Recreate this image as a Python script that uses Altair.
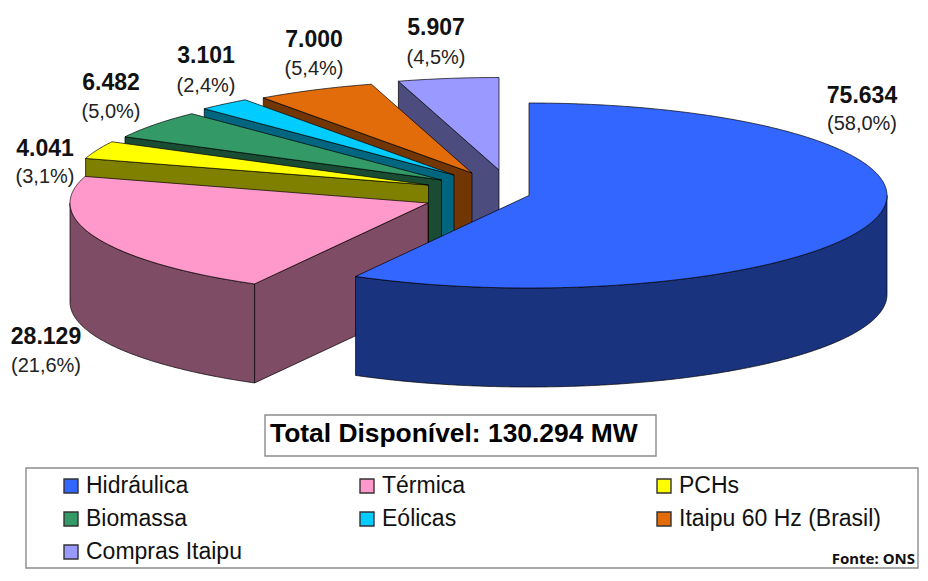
import math
import altair as alt

# ---- values ----
names = ["Hidráulica", "Térmica", "PCHs", "Biomassa", "Eólicas", "Itaipu 60 Hz (Brasil)", "Compras Itaipu"]
values = [75634, 28129, 4041, 6482, 3101, 7000, 5907]
value_labels = ["75.634", "28.129", "4.041", "6.482", "3.101", "7.000", "5.907"]
share_labels = ["(58,0%)", "(21,6%)", "(3,1%)", "(5,0%)", "(2,4%)", "(5,4%)", "(4,5%)"]
top_colors = ["#3366FF", "#FF99CC", "#FFFF00", "#339966", "#00CCFF", "#E36C0A", "#9999FF"]
side_colors = ["#1A337F", "#7F4C66", "#7F7F00", "#1A4C33", "#00667F", "#723605", "#4C4C7F"]
total_label = "Total Disponível: 130.294 MW"
source_label = "Fonte: ONS"

# ---- layout (page pixels; the drawing starts 8px inside the page) ----
ORIGIN = 8
RX, RY, DEPTH = 358.0, 92.5, 99.0
apex = [(529, 195.5), (428, 203), (428.5, 185), (441.5, 180), (454, 175), (472, 173), (499, 170)]
label_xy = [(862, 96, 124), (46, 337, 366), (45, 149, 177), (111, 83, 112),
            (206, 56, 86), (314, 40, 69), (436, 28, 58)]
legend_xy = [(64, 486), (360, 486), (657, 486), (64, 519), (360, 519), (657, 519), (64, 552)]


def pt(i, deg, drop=0.0):
    a = math.radians(deg)
    cx, cy = apex[i]
    return [cx + RX * math.sin(a) - ORIGIN, cy - RY * math.cos(a) + drop - ORIGIN]


def arc(i, d0, d1, drop=0.0):
    n = max(2, int(abs(d1 - d0) * 2))
    return [pt(i, d0 + (d1 - d0) * k / n, drop) for k in range(n + 1)]


def feature(ring, color):
    ring = ring + [ring[0]]
    return {"type": "Feature", "properties": {"fill": color},
            "geometry": {"type": "Polygon", "coordinates": [ring]}}


total = sum(values)
starts, ends, acc = [], [], 0.0
for v in values:
    starts.append(acc)
    acc += v / total * 360.0
    ends.append(acc)

features = []
for i in range(len(values) - 1, -1, -1):
    d0, d1 = starts[i], ends[i]
    cx, cy = apex[i]
    vertex = [cx - ORIGIN, cy - ORIGIN]
    vertex_low = [cx - ORIGIN, cy - ORIGIN + DEPTH]
    # cut wall on the slice's starting radius (hidden for the first slice)
    if i > 0:
        features.append(feature([pt(i, d0), vertex, vertex_low, pt(i, d0, DEPTH)], side_colors[i]))
    # outer rim where it faces the viewer
    r0, r1 = max(d0, 90.0), min(d1, 270.0)
    if r1 > r0:
        features.append(feature(arc(i, r0, r1) + arc(i, r1, r0, DEPTH), side_colors[i]))
    # top face
    features.append(feature([vertex] + arc(i, d0, d1), top_colors[i]))

pie = (
    alt.Chart(alt.Data(values=features))
    .mark_geoshape(stroke="#000000", strokeWidth=0.7, strokeJoin="round")
    .encode(color=alt.Color("properties.fill:N", scale=None, legend=None))
    .project(type="identity", scale=1, translate=[0, 0])
)

X = lambda f: alt.X(f, type="quantitative", scale=None, axis=None)
Y = lambda f: alt.Y(f, type="quantitative", scale=None, axis=None)

label_rows = [
    {"t1": value_labels[i], "t2": share_labels[i], "x": label_xy[i][0] - ORIGIN,
     "y1": label_xy[i][1] - ORIGIN, "y2": label_xy[i][2] - ORIGIN}
    for i in range(len(values))
]
labels_data = alt.Data(values=label_rows)
value_text = alt.Chart(labels_data).mark_text(
    font="Liberation Sans", fontSize=23, fontWeight="bold", color="#111111", baseline="middle", align="center"
).encode(x=X("x"), y=Y("y1"), text="t1:N")
share_text = alt.Chart(labels_data).mark_text(
    font="Liberation Sans", fontSize=20, color="#222222", baseline="middle", align="center"
).encode(x=X("x"), y=Y("y2"), text="t2:N")

boxes = alt.Chart(alt.Data(values=[
    {"x": 265 - ORIGIN, "x2": 656 - ORIGIN, "y": 415 - ORIGIN, "y2": 456 - ORIGIN},
    {"x": 26 - ORIGIN, "x2": 918 - ORIGIN, "y": 468 - ORIGIN, "y2": 568 - ORIGIN},
])).mark_rect(fill="#FFFFFF", stroke="#8C8C8C", strokeWidth=1.4).encode(
    x=X("x"), x2="x2:Q", y=Y("y"), y2="y2:Q"
)

title = alt.Chart(alt.Data(values=[{"t": total_label, "x": 270 - ORIGIN, "y": 434 - ORIGIN}])).mark_text(
    font="Liberation Sans", fontSize=26.4, fontWeight="bold", color="#000000", baseline="middle", align="left"
).encode(x=X("x"), y=Y("y"), text="t:N")

legend_rows = [
    {"name": names[i], "fill": top_colors[i],
     "x": legend_xy[i][0] - ORIGIN, "x2": legend_xy[i][0] + 14 - ORIGIN,
     "y": legend_xy[i][1] - 7 - ORIGIN, "y2": legend_xy[i][1] + 7 - ORIGIN,
     "tx": legend_xy[i][0] + 22 - ORIGIN, "ty": legend_xy[i][1] - ORIGIN}
    for i in range(len(names))
]
legend_data = alt.Data(values=legend_rows)
swatches = alt.Chart(legend_data).mark_rect(stroke="#333333", strokeWidth=1.4).encode(
    x=X("x"), x2="x2:Q", y=Y("y"), y2="y2:Q", color=alt.Color("fill:N", scale=None, legend=None)
)
legend_text = alt.Chart(legend_data).mark_text(
    font="Liberation Sans", fontSize=23, color="#111111", baseline="middle", align="left"
).encode(x=X("tx"), y=Y("ty"), text="name:N")

source = alt.Chart(alt.Data(values=[{"t": source_label, "x": 907, "y": 564 - ORIGIN}])).mark_text(
    font="Noto Sans", fontSize=15, fontWeight="bold", color="#111111", baseline="alphabetic", align="right"
).encode(x=X("x"), y=Y("y"), text="t:N")

chart = (
    alt.layer(pie, value_text, share_text, boxes, title, swatches, legend_text, source)
    .properties(width=912, height=565, padding=0, autosize=alt.AutoSizeParams(type="none"), background="#FFFFFF")
    .configure_view(stroke=None)
)
chart.save("out.html", embed_options={"renderer": "svg", "actions": False})
